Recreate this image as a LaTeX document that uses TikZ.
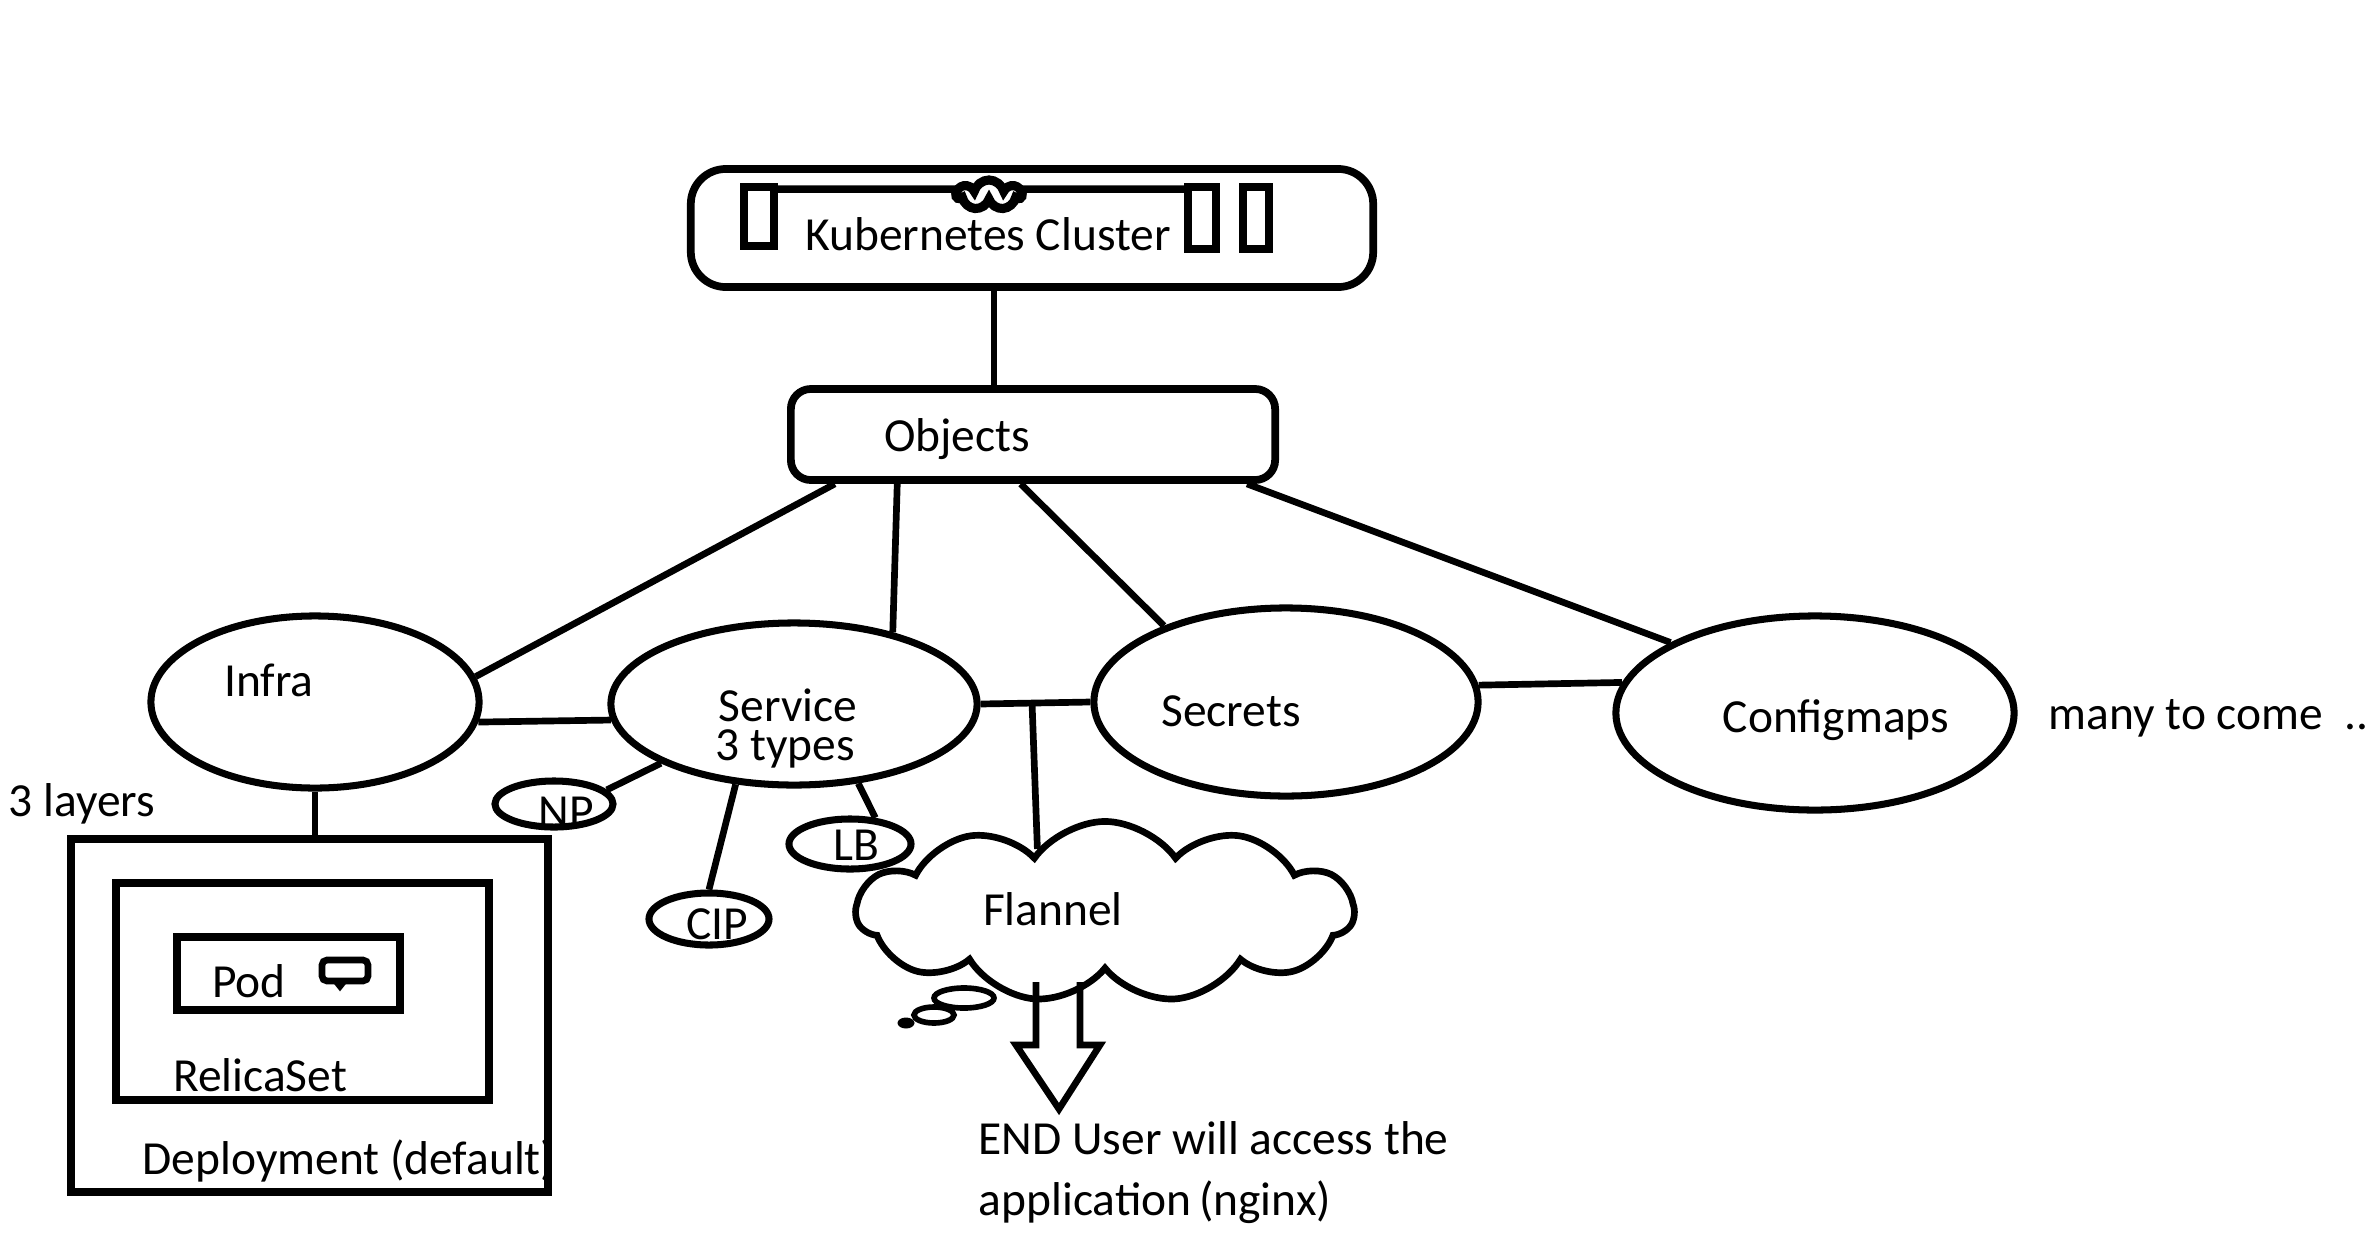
\documentclass[tikz,border=0pt]{standalone}
\usepackage{fontspec}
\setmainfont{Carlito}
\usetikzlibrary{shapes.geometric,shapes.symbols}

\tikzset{
  pen/.style={line width=1.9pt},
  heavy pen/.style={line width=2.2pt},
  oval/.style={ellipse, draw, line width=2pt, inner sep=0pt},
  layerbox/.style={rectangle, draw, line width=2.2pt, inner sep=0pt},
  txt/.style={font=\fontsize{13.5}{16}\selectfont, inner sep=0pt, anchor=base},
}

\begin{document}
\begin{tikzpicture}[x=0.01cm, y=-0.01cm]
	\useasboundingbox (0,0) rectangle (2366,1236);
	%cluster
	\node[layerbox, rounded corners=0.35cm, minimum width=6.82cm, minimum height=1.18cm] (kube) at (1032,228) {};
	\node[layerbox, minimum width=0.30cm, minimum height=0.59cm] (knode1) at (759,216.5) {};
	\node[layerbox, minimum width=0.28cm, minimum height=0.62cm] (knode2) at (1202,218) {};
	\node[layerbox, minimum width=0.26cm, minimum height=0.62cm] (knode3) at (1256,218) {};
	\draw[heavy pen] ([yshift=-0.06cm]knode1.north east) -- ([yshift=-0.06cm]knode2.north west);
	\node[cloud, cloud ignores aspect, draw, fill=white, line width=2.6pt, cloud puffs=7, minimum width=0.64cm, minimum height=0.30cm, inner sep=0pt] (kblob) at (989,195) {};
	\node[txt] (kubelbl) at (988,250) {Kubernetes Cluster};
	%objects
	\node[layerbox, rounded corners=0.2cm, minimum width=4.84cm, minimum height=0.91cm] (objects) at (1033,434.5) {};
	\node[txt] (objlbl) at (957,451) {Objects};
	\draw[pen] ([xshift=-0.38cm]kube.south) -- ([xshift=-0.39cm]objects.north);
	%kinds of objects
	\node[oval, minimum width=3.28cm, minimum height=1.72cm] (infra) at (315,702) {};
	\node[oval, minimum width=3.66cm, minimum height=1.62cm] (service) at (794,704) {};
	\node[oval, minimum width=3.84cm, minimum height=1.88cm] (secrets) at (1286,702) {};
	\node[oval, minimum width=3.98cm, minimum height=1.94cm] (configmaps) at (1815,713) {};
	\node[txt] (infralbl) at (269,696) {Infra};
	\node[txt] (servicelbl) at (788,721) {Service};
	\node[txt] (typeslbl) at (785,760) {3 types};
	\node[txt] (secretslbl) at (1231,726) {Secrets};
	\node[txt] (configlbl) at (1836,732) {Configmaps};
	\node[txt, anchor=base west] (morelbl) at (2048,729) {many to come\ \ ..};
	\draw[pen] (objects.194) -- (infra.9);
	\draw[pen] (objects.200) -- (service.36);
	\draw[pen] (objects.256) -- (secrets.148);
	\draw[pen] (objects.347) -- (configmaps.154);
	\draw[pen] (infra.-7) -- (service.185);
	\draw[pen] (service.0) -- (secrets.180);
	\draw[pen] (secrets.5) -- (configmaps.171);
	%service types
	\node[oval, minimum width=1.18cm, minimum height=0.46cm] (np) at (554,804) {};
	\node[oval, minimum width=1.20cm, minimum height=0.52cm] (cip) at (709,919) {};
	\node[oval, minimum width=1.22cm, minimum height=0.50cm] (lb) at (850,844) {};
	\node[txt] (nplbl) at (566,827) {NP};
	\node[txt] (ciplbl) at (717,939) {CIP};
	\node[txt] (lblbl) at (856,860) {LB};
	\draw[pen] (service.204) -- (np.15);
	\draw[pen] (service.234) -- (cip.north);
	\draw[pen] (service.309) -- (lb.46);
	%flannel
	\node[cloud, cloud ignores aspect, draw, pen, cloud puffs=11, cloud puff arc=110, minimum width=4.97cm, minimum height=1.81cm] (flannel) at (1105,912) {};
	\node[txt] (flannellbl) at (1053,925) {Flannel};
	\node[oval, line width=1.6pt, minimum width=0.60cm, minimum height=0.20cm] (bubble1) at (964,998) {};
	\node[oval, line width=1.6pt, minimum width=0.40cm, minimum height=0.16cm] (bubble2) at (934,1015) {};
	\node[ellipse, fill, minimum width=0.17cm, minimum height=0.11cm, inner sep=0pt] (bubble3) at (906,1023) {};
	\coordinate (tap) at (1032,702);
	\draw[pen] (tap) -- (flannel.137);
	%end user
	\coordinate (outlet) at (1058,982);
	\draw[pen] ([xshift=-0.22cm]outlet) -- ++(0,63) -- ++(-20,0) -- ++(43,64) -- ++(41,-64) -- ++(-20,0) -- ++(0,-63);
	\node[txt, anchor=base west] (userlbl) at (978,1154) {END User will access the};
	\node[txt, anchor=base west] (applbl) at (978,1215) {application\,(nginx)};
	%3 layers
	\node[txt, anchor=base west] (layerslbl) at (8,816) {3 layers};
	\node[layerbox, minimum width=4.77cm, minimum height=3.53cm] (deploy) at (309.5,1015.5) {};
	\node[layerbox, minimum width=3.73cm, minimum height=2.17cm] (replica) at (302.5,991.5) {};
	\node[layerbox, minimum width=2.23cm, minimum height=0.73cm] (pod) at (288.5,973.5) {};
	\node[txt] (podlbl) at (249,997) {Pod};
	\node[txt] (replicalbl) at (260,1091) {RelicaSet};
	\node[txt, anchor=base west] (deploylbl) at (142,1174) {Deployment (default)};
	\draw[pen, rounded corners=0.05cm] (322,960) rectangle (368,981);
	\draw[pen] (336,981) -- (340,986) -- (344,981);
	\draw[pen] (infra.south) -- (infra.south |- deploy.north);
\end{tikzpicture}
\end{document}
